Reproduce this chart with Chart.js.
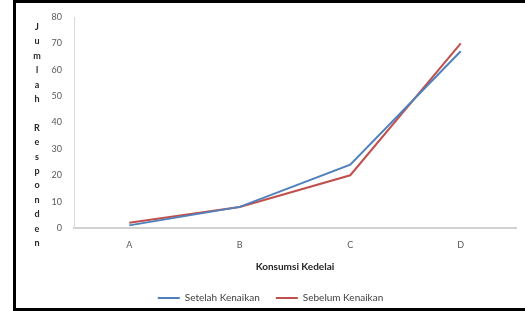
<!DOCTYPE html>
<html>
<head>
<meta charset="utf-8">
<script src="https://cdn.jsdelivr.net/npm/chart.js@4"></script>
<style>
    body { margin: 0; background: #fff; }
    #frame {
        position: absolute; left: 13px; top: 0;
        width: 509px; height: 305px;
        border-left: 3px solid #000; border-top: 3px solid #000; border-bottom: 3px solid #000;
    }
    #chart { display: block; }
</style>
</head>
<body>
<div id="frame"><canvas id="chart" width="509" height="305"></canvas></div>
<script>
const labels = ['A', 'B', 'C', 'D'];
const setelahKenaikan = [1, 8, 24, 67];
const sebelumKenaikan = [2, 8, 20, 70];
const yTitle = 'Jumlah Responden';
const xTitle = 'Konsumsi Kedelai';

// judul sumbu Y huruf per huruf (ditumpuk vertikal)
const stackedTitle = {
    id: 'stackedTitle',
    afterDraw(chart) {
        const c = chart.ctx;
        c.save();
        c.font = 'bold 9px Lato';
        c.fillStyle = '#262626';
        c.textAlign = 'center';
        c.textBaseline = 'middle';
        const chars = yTitle.split('');
        chars.forEach((ch, i) => {
            c.fillText(ch, 21, 24 + i * 14.4);
        });
        c.restore();
    }
};

const ctx = document.getElementById('chart');
new Chart(ctx, {
    type: 'line',
    data: {
        labels: labels,
        datasets: [{
            label: 'Setelah Kenaikan',
            data: setelahKenaikan,
            borderColor: '#4F81BD',
            backgroundColor: '#4F81BD',
            borderWidth: 2,
            pointRadius: 0,
            tension: 0
        }, {
            label: 'Sebelum Kenaikan',
            data: sebelumKenaikan,
            borderColor: '#C0504D',
            backgroundColor: '#C0504D',
            borderWidth: 2,
            pointRadius: 0,
            tension: 0
        }]
    },
    options: {
        responsive: false,
        animation: false,
        layout: { padding: { top: 5, right: 0, left: 0, bottom: -5 } },
        plugins: {
            tooltip: { enabled: false },
            legend: {
                position: 'bottom',
                labels: {
                    usePointStyle: true,
                    pointStyle: 'line',
                    pointStyleWidth: 22,
                    boxHeight: 2,
                    padding: 16,
                    color: '#404040',
                    font: { family: 'Lato', size: 10 }
                }
            }
        },
        scales: {
            x: {
                offset: true,
                grid: { display: false, drawTicks: false },
                border: { color: '#D0D0D0', width: 2 },
                ticks: { color: '#595959', padding: 12, font: { family: 'Lato', size: 9 } },
                title: {
                    display: true,
                    text: xTitle,
                    color: '#262626',
                    padding: { top: 0, bottom: 4 },
                    font: { family: 'Lato', size: 10, weight: 'bold' }
                },
                afterFit(scale) {
                    scale.height = 49;
                    scale.paddingRight = 9;
                }
            },
            y: {
                min: 0,
                max: 80,
                grid: { display: false, drawTicks: false },
                border: { color: '#D9D9D9', width: 1 },
                ticks: { stepSize: 10, color: '#595959', padding: 12, font: { family: 'Lato', size: 9 } },
                afterFit(scale) {
                    scale.width = 58;
                    scale.paddingTop = 14;
                }
            }
        }
    },
    plugins: [stackedTitle]
});
</script>
</body>
</html>
